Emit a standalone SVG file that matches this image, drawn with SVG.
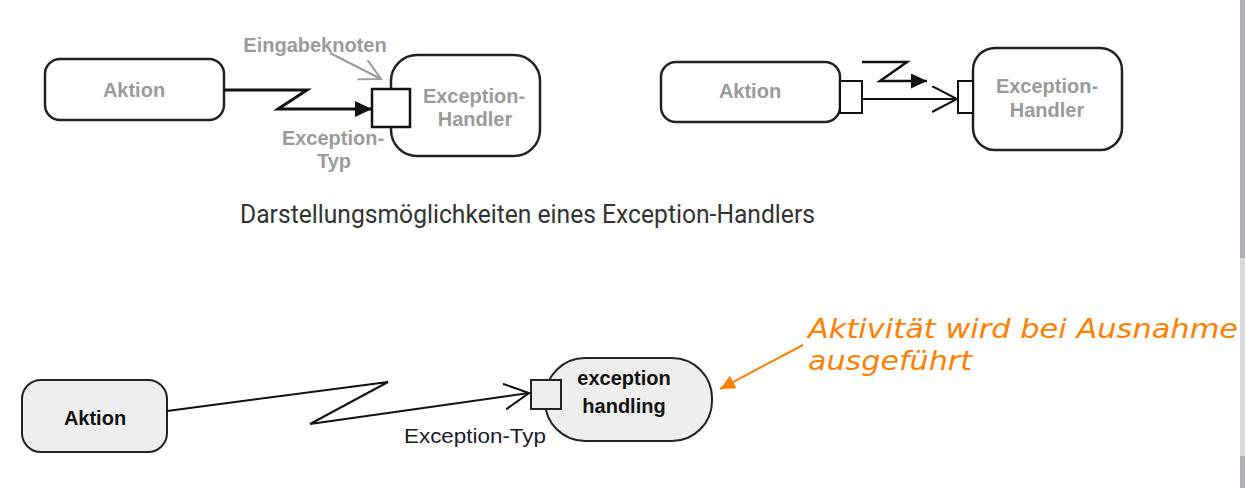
<svg xmlns="http://www.w3.org/2000/svg" width="1245" height="488" viewBox="0 0 1245 488">
  <style>
    .box { fill: #ffffff; stroke: #222222; stroke-width: 2.5; }
    .boxg { fill: #eeeeee; stroke: #222222; stroke-width: 2; }
    .pin { fill: #ffffff; stroke: #111111; stroke-width: 2.5; }
    .ping { fill: #eeeeee; stroke: #222222; stroke-width: 2; }
    .lbl { font-family: "Liberation Sans", Arial, sans-serif; font-weight: bold; font-size: 20px; fill: #9a9a9a; text-anchor: middle; }
    .lblk { font-family: "Liberation Sans", Arial, sans-serif; font-weight: bold; font-size: 20px; fill: #111111; text-anchor: middle; }
    .reg { font-family: "Liberation Sans", Arial, sans-serif; font-size: 21px; fill: #1a1a2a; }
    .cap { font-family: Roboto, "Liberation Sans", sans-serif; font-size: 25px; fill: #333333; }
    .note { font-family: "DejaVu Sans", Verdana, sans-serif; font-style: italic; font-size: 27px; fill: #ff8000; }
    .flow { fill: none; stroke: #111111; stroke-width: 3; stroke-linejoin: miter; }
    .flow2 { fill: none; stroke: #111111; stroke-width: 2; stroke-linejoin: miter; }
  </style>
  <defs>
    <marker id="fill1" markerUnits="userSpaceOnUse" markerWidth="18" markerHeight="18" refX="17" refY="8" orient="auto">
      <path d="M0,0 L17,8 L0,16 z" fill="#111111"/>
    </marker>
    <marker id="fill2" markerUnits="userSpaceOnUse" markerWidth="18" markerHeight="18" refX="16" refY="7.5" orient="auto">
      <path d="M0,0 L16,7.5 L0,15 z" fill="#111111"/>
    </marker>
    <marker id="open" markerUnits="userSpaceOnUse" markerWidth="30" markerHeight="30" refX="25" refY="13" orient="auto">
      <path d="M0,0 L25,13 L0,26" fill="none" stroke="#111111" stroke-width="2"/>
    </marker>
    <marker id="openg" markerUnits="userSpaceOnUse" markerWidth="26" markerHeight="26" refX="21" refY="11" orient="auto">
      <path d="M0,0 L21,11 L0,22" fill="none" stroke="#9a9a9a" stroke-width="2"/>
    </marker>
    <marker id="orange" markerUnits="userSpaceOnUse" markerWidth="18" markerHeight="18" refX="15" refY="7" orient="auto">
      <path d="M0,0 L15,7 L0,14 z" fill="#ff8000"/>
    </marker>
  </defs>

  <rect x="0" y="0" width="1245" height="488" fill="#ffffff"/>
  <!-- scrollbar strip -->
  <rect x="1240" y="0" width="5" height="258" fill="#aab0b7"/>
  <rect x="1240" y="258" width="5" height="198" fill="#d6d9dd"/>
  <rect x="1240" y="456" width="5" height="32" fill="#aab0b7"/>

  <!-- Diagram 1 -->
  <g id="d1-aktion">
    <rect class="box" x="45" y="59" width="179" height="61" rx="15"/>
    <text class="lbl" x="134" y="97">Aktion</text>
  </g>
  <g id="d1-handler">
    <rect class="box" x="391" y="55" width="149" height="101" rx="26"/>
    <text class="lbl" x="474" y="103">Exception-</text>
    <text class="lbl" x="475" y="126">Handler</text>
  </g>
  <g id="d1-pin">
    <rect class="pin" x="372" y="89" width="38" height="38"/>
  </g>
  <g id="d1-labels">
    <text class="lbl" x="315" y="52">Eingabeknoten</text>
    <text class="lbl" x="333" y="145">Exception-</text>
    <text class="lbl" x="334" y="168">Typ</text>
  </g>

  <!-- Diagram 2 -->
  <g id="d2-aktion">
    <rect class="box" x="661" y="62" width="179" height="60" rx="15"/>
    <text class="lbl" x="750" y="98">Aktion</text>
  </g>
  <g id="d2-outpin">
    <rect class="pin" x="840" y="81" width="22" height="32" style="stroke-width:2"/>
  </g>
  <g id="d2-handler">
    <rect class="box" x="973" y="48" width="149" height="102" rx="22"/>
    <text class="lbl" x="1047" y="93">Exception-</text>
    <text class="lbl" x="1047" y="117">Handler</text>
  </g>
  <g id="d2-inpin">
    <rect class="pin" x="958" y="81" width="15" height="32" style="stroke-width:2"/>
  </g>

  <!-- Caption -->
  <text class="cap" x="240" y="223" textLength="575" lengthAdjust="spacingAndGlyphs">Darstellungsmöglichkeiten eines Exception-Handlers</text>

  <!-- Diagram 3 -->
  <g id="d3-aktion">
    <rect class="boxg" x="22" y="380" width="145" height="72" rx="19"/>
    <text class="lblk" x="95" y="425">Aktion</text>
  </g>
  <g id="d3-handler">
    <rect class="boxg" x="545" y="358" width="167" height="83" rx="40"/>
    <text class="lblk" x="624" y="385">exception</text>
    <text class="lblk" x="624" y="413">handling</text>
  </g>
  <g id="d3-pin">
    <rect class="ping" x="531" y="380" width="30" height="29"/>
  </g>
  <g id="d3-label">
    <text class="reg" x="404" y="443" textLength="142" lengthAdjust="spacingAndGlyphs">Exception-Typ</text>
  </g>
  <g id="annotation">
    <text class="note" x="808" y="338" textLength="430" lengthAdjust="spacingAndGlyphs">Aktivität wird bei Ausnahme</text>
    <text class="note" x="808" y="370" textLength="164" lengthAdjust="spacingAndGlyphs">ausgeführt</text>
  </g>

  <!-- Connectors -->
  <g id="connectors">
    <polyline class="flow" points="224,90 307,90 278,109 372,109" marker-end="url(#fill1)"/>
    <line x1="330" y1="53" x2="381" y2="79" stroke="#9a9a9a" stroke-width="2" marker-end="url(#openg)"/>
    <polyline class="flow2" points="862,62 907,62 880,81 927,81" style="stroke-width:2.5" marker-end="url(#fill2)"/>
    <line class="flow2" x1="862" y1="99" x2="957" y2="99" marker-end="url(#open)"/>
    <polyline class="flow2" points="167,411 388,382 310,424 529,393" marker-end="url(#open)"/>
    <line x1="803" y1="345" x2="720" y2="389" stroke="#ff8000" stroke-width="2" marker-end="url(#orange)"/>
  </g>
</svg>
